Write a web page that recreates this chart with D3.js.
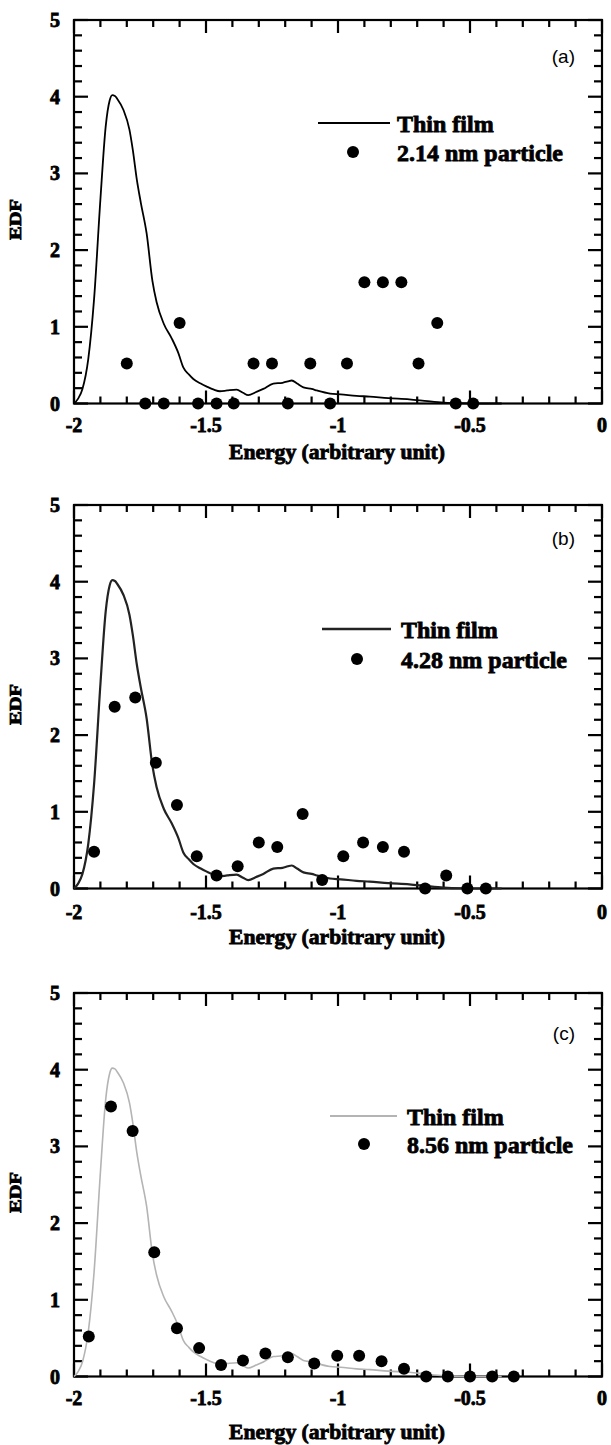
<!DOCTYPE html>
<html>
<head>
<meta charset="utf-8">
<script src="https://cdn.jsdelivr.net/npm/d3@7"></script>
<style>
  html, body { margin: 0; padding: 0; background: #fff; }
  svg { display: block; }
</style>
</head>
<body>
<svg id="chart" width="611" height="1445"></svg>
<script>
// Thin-film energy distribution function (reference curve, same in all panels)
const thinFilmEnergy = [-2.00, -1.985, -1.968, -1.946, -1.924, -1.90, -1.88, -1.865, -1.855, -1.845,
  -1.836, -1.813, -1.79, -1.777, -1.762, -1.747, -1.725, -1.703, -1.687, -1.66, -1.63, -1.605,
  -1.586, -1.565, -1.548, -1.52, -1.497, -1.47, -1.447, -1.42, -1.384, -1.36, -1.34, -1.31,
  -1.283, -1.245, -1.21, -1.19, -1.175, -1.155, -1.131, -1.10, -1.08, -1.03, -0.99, -0.93,
  -0.88, -0.81, -0.73, -0.66, -0.60, -0.54, -0.45, -0.38];
const thinFilmEDF = [0, 0.06, 0.19, 0.58, 1.36, 2.66, 3.61, 3.95, 4.02, 4.01,
  3.97, 3.83, 3.57, 3.30, 2.92, 2.62, 2.22, 1.60, 1.32, 1.04, 0.85, 0.66,
  0.47, 0.38, 0.32, 0.26, 0.22, 0.18, 0.16, 0.17, 0.18, 0.14, 0.11, 0.15,
  0.19, 0.26, 0.27, 0.29, 0.30, 0.26, 0.21, 0.19, 0.17, 0.13, 0.12, 0.10,
  0.09, 0.07, 0.055, 0.03, 0.012, 0.003, 0, 0];

// Particle EDFs
const energyA = [-1.80, -1.73, -1.66, -1.60, -1.53, -1.46, -1.395, -1.32, -1.25, -1.19,
  -1.105, -1.03, -0.966, -0.90, -0.83, -0.76, -0.695, -0.624, -0.554, -0.488];
const edfA = [0.52, 0, 0, 1.05, 0, 0, 0, 0.52, 0.52, 0,
  0.52, 0, 0.52, 1.58, 1.58, 1.58, 0.52, 1.05, 0, 0];

const energyB = [-1.924, -1.846, -1.768, -1.69, -1.61, -1.535, -1.46, -1.38, -1.30, -1.23,
  -1.134, -1.06, -0.98, -0.905, -0.83, -0.75, -0.67, -0.59, -0.51, -0.44];
const edfB = [0.48, 2.37, 2.49, 1.64, 1.09, 0.42, 0.17, 0.29, 0.60, 0.54,
  0.97, 0.11, 0.42, 0.60, 0.54, 0.48, 0, 0.17, 0, 0];

const energyC = [-1.944, -1.86, -1.778, -1.696, -1.61, -1.526, -1.443, -1.36, -1.275, -1.19,
  -1.09, -1.003, -0.92, -0.835, -0.75, -0.666, -0.584, -0.50, -0.416, -0.334];
const edfC = [0.52, 3.52, 3.20, 1.62, 0.63, 0.37, 0.15, 0.21, 0.30, 0.25,
  0.17, 0.27, 0.27, 0.20, 0.10, 0, 0, 0, 0, 0];

// Axis ticks and text
const xTickValues = [-2, -1.5, -1, -0.5, 0];
const xTickLabels = ["-2", "-1.5", "-1", "-0.5", "0"];
const xMinorTicks = [-1.9, -1.8, -1.7, -1.6, -1.4, -1.3, -1.2, -1.1, -0.9, -0.8, -0.7, -0.6, -0.4, -0.3, -0.2, -0.1];
const yTickValues = [0, 1, 2, 3, 4, 5];
const yTickLabels = ["0", "1", "2", "3", "4", "5"];
const yMinorTicks = [0.2, 0.4, 0.6, 0.8, 1.2, 1.4, 1.6, 1.8, 2.2, 2.4, 2.6, 2.8, 3.2, 3.4, 3.6, 3.8, 4.2, 4.4, 4.6, 4.8];
const xTitle = "Energy (arbitrary unit)";
const yTitle = "EDF";
const lineLegend = "Thin film";
const particleLegends = ["2.14 nm particle", "4.28 nm particle", "8.56 nm particle"];
const panelTags = ["(a)", "(b)", "(c)"];

// Panel layout and styling
const panels = [
  { top: 20,  tickBase: 28, titleBase: 55, tagY: 63,   legLine: [318, 390, 123], legDot: [353, 152], legText: 397,
    curveColor: "#000", curveWidth: 1.8, energy: energyA, edf: edfA },
  { top: 505, tickBase: 30, titleBase: 55, tagY: 545,  legLine: [322, 391, 629], legDot: [357, 659], legText: 401,
    curveColor: "#222", curveWidth: 2.2, energy: energyB, edf: edfB },
  { top: 993, tickBase: 28, titleBase: 62, tagY: 1040, legLine: [330, 397, 1116], legDot: [364, 1144], legText: 407,
    curveColor: "#b4b4b4", curveWidth: 1.6, energy: energyC, edf: edfC }
];

const serifFont = '"Liberation Serif", "DejaVu Serif", serif';
const svg = d3.select("#chart");
const left = 74, right = 602, plotH = 383.5;
const x = d3.scaleLinear().domain([-2, 0]).range([left, right]);
const filmPoints = thinFilmEnergy.map((e, i) => [e, thinFilmEDF[i]]);

function boldText(sel, size) {
  return sel.attr("font-family", serifFont).attr("font-weight", "bold")
    .attr("font-size", size).attr("fill", "#000")
    .attr("stroke", "#000").attr("stroke-width", 0.8);
}

panels.forEach((p, k) => {
  const y = d3.scaleLinear().domain([0, 5]).range([p.top + plotH, p.top]);
  const g = svg.append("g");
  const bottom = p.top + plotH;

  // frame
  g.append("rect")
    .attr("x", left).attr("y", p.top)
    .attr("width", right - left).attr("height", plotH)
    .attr("fill", "none").attr("stroke", "#000").attr("stroke-width", 2.2);

  // inward ticks on all four sides: [x1, y1, x2, y2]
  const tickLines = [];
  const addX = (v, len) => {
    tickLines.push([x(v), bottom, x(v), bottom - len]);
    tickLines.push([x(v), p.top, x(v), p.top + len]);
  };
  const addY = (v, len) => {
    tickLines.push([left, y(v), left + len, y(v)]);
    tickLines.push([right, y(v), right - len, y(v)]);
  };
  xMinorTicks.forEach(v => addX(v, 7));
  xTickValues.forEach(v => addX(v, 13));
  yMinorTicks.forEach(v => addY(v, 8));
  yTickValues.forEach(v => addY(v, 14));
  g.append("g").selectAll("line").data(tickLines).join("line")
    .attr("x1", d => d[0]).attr("y1", d => d[1])
    .attr("x2", d => d[2]).attr("y2", d => d[3])
    .attr("stroke", "#000").attr("stroke-width", 2.2);

  // tick labels
  g.append("g").selectAll("text").data(xTickValues).join("text")
    .call(boldText, 20)
    .attr("x", d => x(d)).attr("y", bottom + p.tickBase)
    .attr("text-anchor", "middle")
    .text((d, i) => xTickLabels[i]);
  g.append("g").selectAll("text").data(yTickValues).join("text")
    .call(boldText, 20)
    .attr("x", left - 14).attr("y", d => y(d) + 7)
    .attr("text-anchor", "end")
    .text((d, i) => yTickLabels[i]);

  // axis titles
  g.append("text").call(boldText, 20)
    .attr("x", (left + right) / 2 - 1).attr("y", bottom + p.titleBase)
    .attr("text-anchor", "middle")
    .attr("textLength", 216).attr("lengthAdjust", "spacingAndGlyphs")
    .text(xTitle);
  g.append("text").call(boldText, 17)
    .attr("transform", `translate(21,${y(2.4)}) rotate(-90)`)
    .attr("text-anchor", "middle")
    .attr("textLength", 41).attr("lengthAdjust", "spacingAndGlyphs")
    .text(yTitle);

  // panel tag
  g.append("text")
    .attr("font-family", '"Liberation Sans", Arial, sans-serif')
    .attr("fill", "#000")
    .attr("x", 575).attr("y", p.tagY)
    .attr("text-anchor", "end").attr("font-size", 19)
    .text(panelTags[k]);

  // thin film curve
  const line = d3.line().x(d => x(d[0])).y(d => y(d[1])).curve(d3.curveMonotoneX);
  g.append("path").datum(filmPoints)
    .attr("d", line)
    .attr("fill", "none").attr("stroke", p.curveColor)
    .attr("stroke-width", p.curveWidth).attr("stroke-linejoin", "round");

  // particle points
  g.append("g").selectAll("circle").data(p.energy.map((e, i) => [e, p.edf[i]])).join("circle")
    .attr("cx", d => x(d[0])).attr("cy", d => y(d[1]))
    .attr("r", 6).attr("fill", "#000");

  // legend
  g.append("line")
    .attr("x1", p.legLine[0]).attr("x2", p.legLine[1])
    .attr("y1", p.legLine[2]).attr("y2", p.legLine[2])
    .attr("stroke", p.curveColor).attr("stroke-width", p.curveWidth + 0.3);
  g.append("circle").attr("cx", p.legDot[0]).attr("cy", p.legDot[1]).attr("r", 6).attr("fill", "#000");
  g.append("text").call(boldText, 24)
    .attr("x", p.legText).attr("y", p.legLine[2] + 8.5)
    .text(lineLegend);
  g.append("text").call(boldText, 24)
    .attr("x", p.legText).attr("y", p.legDot[1] + 8.5)
    .text(particleLegends[k]);
});
</script>
</body>
</html>
